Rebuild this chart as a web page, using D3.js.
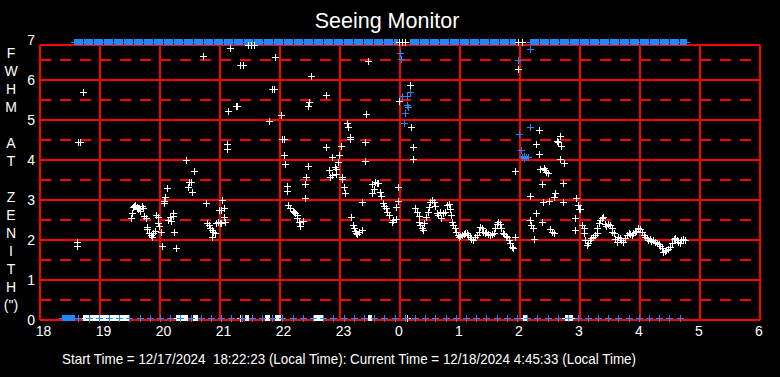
<!DOCTYPE html>
<html><head><meta charset="utf-8">
<script src="https://cdn.jsdelivr.net/npm/d3@7"></script>
<style>html,body{margin:0;padding:0;background:#000;}svg{display:block;}</style>
</head><body>
<script>
// ---- data (hours since 18:00 continue past 24 for after midnight) ----
const xTickHours = [18,19,20,21,22,23,24,25,26,27,28,29,30];
const xTickLabels = ["18","19","20","21","22","23","0","1","2","3","4","5","6"];
const yTicks = [0,1,2,3,4,5,6,7];
const yHalfTicks = [0.5,1.5,2.5,3.5,4.5,5.5,6.5];
const yLabelLetters = ["F","W","H","M","","A","T","","Z","E","N","I","T","H","(\")"];
const titleText = "Seeing Monitor";
const footerText = "Start Time = 12/17/2024  18:22:23 (Local Time): Current Time = 12/18/2024 4:45:33 (Local Time)";

// white FWHM readings [hour, arcsec]
const whitePoints = [
 [18.61,1.94],[18.62,1.84],[18.63,4.44],[18.67,4.44],[18.71,5.69],
 [19.52,2.56],[19.54,2.67],[19.55,2.83],[19.57,2.85],[19.59,2.88],[19.61,2.82],[19.63,2.78],[19.65,2.80],[19.67,2.73],[19.70,2.86],[19.72,2.79],
 [19.74,2.60],[19.76,2.54],[19.78,2.33],[19.79,2.27],[19.82,2.18],[19.85,2.13],[19.87,2.08],[19.89,2.17],[19.92,2.23],[19.93,2.63],[19.96,2.57],
 [19.97,2.43],[19.99,2.35],[20.02,2.19],[20.04,1.84],[20.06,2.92],[20.07,2.97],[20.09,3.07],[20.12,3.29],[20.14,2.50],[20.16,2.58],[20.18,2.47],
 [20.21,2.67],[20.22,2.60],[20.24,2.19],[20.26,1.79],[20.44,3.99],[20.46,3.33],[20.48,3.44],[20.52,3.44],[20.54,3.19],[20.56,3.72],[20.72,6.59],
 [20.77,2.92],[20.79,2.43],[20.81,2.38],[20.83,2.29],[20.86,2.25],[20.87,2.07],[20.89,2.21],[20.92,2.17],[20.94,2.42],[20.97,2.46],[20.99,2.75],[21.00,2.42],
 [21.02,2.75],[21.02,2.43],[21.04,2.99],[21.06,2.79],[21.07,2.57],[21.09,2.44],[21.11,4.27],[21.12,4.39],[21.14,5.22],[21.16,6.79],[21.27,5.34],
 [21.29,5.34],[21.33,0],[21.34,6.37],[21.39,6.37],[21.47,6.87],[21.52,6.87],[21.57,6.87],[21.82,4.97],[21.87,5.77],[21.90,5.77],[21.92,6.57],[22.01,5.12],
 [22.03,4.53],[22.06,4.52],[22.07,4.12],[22.09,3.89],[22.11,3.35],[22.12,3.22],[22.14,2.88],[22.17,2.81],[22.21,2.73],[22.23,2.70],[22.25,2.68],
 [22.28,2.63],[22.29,2.54],[22.32,2.46],[22.34,2.35],[22.39,2.48],[22.41,3.04],[22.42,3.39],[22.44,3.58],[22.46,3.84],[22.47,5.34],[22.49,5.45],
 [22.51,6.09],[22.76,5.62],[22.77,4.32],[22.81,3.74],[22.83,3.58],[22.86,3.63],[22.87,4.07],[22.92,3.83],[22.93,3.64],[22.94,3.78],[22.97,3.94],
 [22.99,4.12],[23.01,4.34],[23.03,3.57],[23.04,3.52],[23.07,3.32],[23.09,3.17],[23.11,4.92],[23.14,4.83],[23.16,4.53],[23.17,4.57],[23.19,2.57],
 [23.21,2.38],[23.23,2.29],[23.25,2.22],[23.27,2.18],[23.29,2.15],[23.32,2.21],[23.36,2.25],[23.37,2.94],[23.41,3.97],[23.42,4.44],[23.44,5.14],
 [23.46,6.47],[23.53,3.40],[23.54,3.17],[23.56,3.27],[23.58,3.46],[23.61,3.42],[23.64,3.43],[23.67,3.21],[23.69,3.10],[23.71,2.93],[23.74,2.86],
 [23.77,2.79],[23.79,2.71],[23.82,2.63],[23.86,2.46],[23.89,2.50],[23.93,2.52],[23.94,2.82],[23.96,2.97],[23.97,3.32],[23.99,5.47],
 [23.98,7],[24.03,7],[24.08,7],[24.12,0],
 [24.17,5.87],[24.19,4.82],[24.21,4.32],[24.22,4.02],
 [24.25,2.79],[24.28,2.71],[24.31,2.60],[24.32,2.46],[24.34,2.38],[24.37,2.29],[24.39,2.25],[24.40,2.43],[24.43,2.58],[24.46,2.71],[24.48,2.83],
 [24.50,2.96],[24.53,3.00],[24.56,2.96],[24.58,2.85],[24.61,2.67],[24.64,2.63],[24.67,2.71],[24.69,2.54],[24.72,2.67],[24.75,2.71],[24.78,2.88],
 [24.81,2.90],[24.83,2.77],[24.85,2.63],[24.87,2.46],[24.89,2.38],[24.91,2.29],[24.93,2.21],[24.96,2.13],[24.98,2.08],[25.00,2.10],[25.03,2.13],
 [25.06,2.15],[25.08,2.17],[25.11,2.18],[25.14,2.13],[25.17,2.07],[25.19,2.02],[25.22,2.00],[25.25,2.07],[25.28,2.13],[25.31,2.21],[25.33,2.32],
 [25.36,2.29],[25.39,2.21],[25.42,2.17],[25.44,2.21],[25.47,2.15],[25.50,2.13],[25.53,2.15],[25.56,2.17],[25.58,2.29],[25.61,2.40],[25.64,2.46],
 [25.67,2.40],[25.68,2.29],[25.71,2.18],[25.73,2.15],[25.77,2.10],[25.79,2.07],[25.81,2.00],[25.83,1.92],[25.86,1.83],[25.88,1.79],
 [25.91,2.07],[25.92,3.72],[25.96,6.27],[25.97,7],[26.03,7],
 [26.16,3.10],[26.17,2.50],[26.19,2.38],[26.22,2.29],[26.24,2.02],[26.26,2.67],[26.27,4.39],[26.31,4.75],[26.32,4.14],[26.33,3.77],[26.36,3.39],
 [26.37,2.44],[26.39,2.94],[26.40,3.79],[26.42,3.75],[26.44,3.71],[26.47,3.68],[26.49,2.98],[26.50,2.27],[26.53,2.21],[26.56,2.18],[26.57,3.08],
 [26.59,3.17],[26.61,4.48],[26.64,4.45],[26.66,4.60],[26.67,4.03],[26.69,4.35],[26.71,2.94],[26.72,3.42],[26.74,3.92],[26.91,2.24],[26.92,2.54],
 [26.94,3.04],[26.97,2.88],[26.99,2.77],[27.00,2.77],
 [27.04,2.38],[27.06,2.29],[27.07,2.17],[27.09,2.00],[27.11,1.88],[27.14,1.92],[27.17,2.00],[27.19,2.04],[27.22,2.08],[27.25,2.13],[27.28,2.17],
 [27.29,2.29],[27.32,2.43],[27.34,2.50],[27.37,2.54],[27.39,2.58],[27.42,2.40],[27.44,2.35],[27.47,2.40],[27.50,2.38],[27.53,2.29],[27.54,2.21],
 [27.57,2.17],[27.59,2.02],[27.61,1.96],[27.64,2.07],[27.67,2.04],[27.69,2.00],[27.72,1.96],[27.75,2.04],[27.78,2.13],[27.81,2.17],[27.83,2.14],
 [27.86,2.13],[27.89,2.17],[27.92,2.21],[27.94,2.23],[27.97,2.29],[28.00,2.27],[28.03,2.21],[28.06,2.13],[28.08,2.07],[28.11,2.04],[28.14,2.00],
 [28.17,2.02],[28.19,1.98],[28.22,2.00],[28.25,1.96],[28.28,1.93],[28.31,1.90],[28.33,1.85],[28.36,1.79],[28.39,1.71],[28.42,1.73],[28.44,1.75],
 [28.47,1.77],[28.50,1.83],[28.53,1.92],[28.56,2.02],[28.58,2.04],[28.61,2.00],[28.64,1.96],[28.67,1.93],[28.69,2.00],[28.72,2.02],[28.75,2.00]
];

// blue readings on scale [hour, arcsec]
const bluePoints = [
 [24.00,6.67],[24.02,6.52],[24.04,5.61],[24.06,4.92],[24.09,5.17],[24.11,5.61],[24.12,5.37],[24.14,5.33],[24.16,5.69],
 [25.97,6.49],[25.99,4.64],[26.01,4.25],[26.03,4.07],[26.06,4.10],[26.07,4.04],[26.10,4.07],[26.14,4.07],[26.16,4.82],[26.17,6.77]
];

// blue readings at zero (hours)
const blueZeroHours = [
 18.64,18.81,18.98,19.15,19.32,19.49,19.66,19.83,20.00,20.17,20.34,20.51,20.68,20.85,21.02,21.19,21.36,21.53,21.70,21.87,
 22.04,22.21,22.38,22.55,22.72,22.89,23.06,23.23,23.40,23.57,23.74,23.91,24.08,24.25,24.42,24.59,24.76,24.93,25.10,25.27,
 25.44,25.61,25.78,25.95,26.12,26.29,26.46,26.63,26.80,26.96,27.13,27.30,27.47,27.64,27.81,27.98,28.15,28.32,28.49,28.66
];

// runs of continuous readings [start hour, end hour]
const blueTopRuns = [[18.58,23.96],[24.18,25.92],[26.17,28.78]];
const blueZeroRuns = [[18.37,18.58]];
const whiteZeroRuns = [[18.72,19.48],[20.27,20.45],[20.55,20.62],[21.42,21.47],[21.75,21.83],[21.92,22.00],[22.55,22.72],[23.47,23.53],[26.05,26.13],[26.75,26.88]];

// ---- drawing ----
const W = 780, H = 377;
const RED = "#ff0000", BLUE = "#1e88ff", WHITE = "#ffffff";
const FONT = "'Liberation Sans', Arial, sans-serif";

const svg = d3.select("body").append("svg").attr("width", W).attr("height", H);
svg.append("rect").attr("width", W).attr("height", H).attr("fill", "#000");

const x = d3.scaleLinear().domain([18, 30]).range([40, 760]);
const y = d3.scaleLinear().domain([0, 7]).range([320, 40]);
const frameTop = 45;
const yPos = v => Math.max(42, Math.min(318, y(v)));

const grid = svg.append("g").attr("shape-rendering", "crispEdges");
grid.selectAll(".hd").data(yHalfTicks).join("line")
  .attr("x1", x(18)).attr("x2", x(30)).attr("y1", d => y(d)).attr("y2", d => y(d))
  .attr("stroke", RED).attr("stroke-width", 2).attr("stroke-dasharray", "11,9");
grid.selectAll(".hs").data(yTicks.filter(d => d < 7)).join("line")
  .attr("x1", x(18)).attr("x2", x(30)).attr("y1", d => y(d)).attr("y2", d => y(d))
  .attr("stroke", RED).attr("stroke-width", 2);
grid.append("line").attr("x1", x(18)).attr("x2", x(30)).attr("y1", frameTop).attr("y2", frameTop)
  .attr("stroke", RED).attr("stroke-width", 2);
grid.selectAll(".v").data(xTickHours).join("line")
  .attr("x1", d => x(d)).attr("x2", d => x(d)).attr("y1", frameTop).attr("y2", y(0))
  .attr("stroke", RED).attr("stroke-width", 2);

// axes (labels only)
const yAxis = svg.append("g").attr("transform", `translate(${x(18)},0)`)
  .call(d3.axisLeft(y).tickValues(yTicks).tickSize(0).tickPadding(5).tickFormat(d3.format("d")));
const xAxis = svg.append("g").attr("transform", `translate(0,${y(0)})`)
  .call(d3.axisBottom(x).tickValues(xTickHours).tickSize(0).tickPadding(6).tickFormat((d, i) => xTickLabels[i]));
[yAxis, xAxis].forEach(a => {
  a.select(".domain").remove();
  a.selectAll("text").attr("fill", WHITE).attr("font-size", 14).attr("font-family", FONT);
});
xAxis.selectAll("text").attr("dx", (d, i) => xTickLabels[i].length > 1 ? 3 : -1.5);

// run bands
function runs(data, color, yv, notched) {
  const g = svg.append("g").attr("shape-rendering", "crispEdges");
  g.selectAll("line.b").data(data).join("line")
    .attr("x1", d => x(d[0]) - 0.5).attr("x2", d => x(d[1]) + 0.5)
    .attr("y1", yPos(yv)).attr("y2", yPos(yv))
    .attr("stroke", color).attr("stroke-width", 6)
    .attr("stroke-dasharray", notched ? "9,1" : null);
  g.selectAll("line.t").data(data).join("line")
    .attr("x1", d => x(d[0]) - 3.5).attr("x2", d => x(d[1]) + 3.5)
    .attr("y1", yPos(yv) + 0.5).attr("y2", yPos(yv) + 0.5)
    .attr("stroke", color).attr("stroke-width", 1);
}
const cross = "M-3.5,0H3.5M0,-3.5V3.5";
function crosses(data, color) {
  svg.append("g").attr("shape-rendering", "crispEdges")
    .selectAll("path").data(data).join("path")
    .attr("d", cross)
    .attr("transform", d => `translate(${Math.round(x(d[0])) + 0.5},${Math.round(yPos(d[1])) + 0.5})`)
    .attr("fill", "none").attr("stroke", color).attr("stroke-width", 1);
}

runs(blueTopRuns, BLUE, 7, true);
runs(blueZeroRuns, BLUE, 0, false);
runs(whiteZeroRuns, WHITE, 0, false);
crosses(whitePoints, WHITE);
crosses(bluePoints, BLUE);
crosses(blueZeroHours.map(h => [h, 0]), BLUE);

// title
svg.append("text").attr("x", 387).attr("y", 28).attr("text-anchor", "middle")
  .attr("fill", WHITE).attr("font-size", 21.5).attr("font-family", FONT).text(titleText);

// vertical y label
svg.append("g").selectAll("text").data(yLabelLetters).join("text")
  .attr("x", 11).attr("y", (d, i) => 53 + i * 18).attr("dy", "0.35em")
  .attr("text-anchor", "middle").attr("fill", WHITE).attr("font-size", 14).attr("font-family", FONT)
  .text(d => d);

// footer
svg.append("text").attr("x", 62).attr("y", 364)
  .attr("fill", WHITE).attr("font-size", 14.5).attr("font-family", FONT)
  .attr("textLength", 574).attr("lengthAdjust", "spacingAndGlyphs")
  .style("white-space", "pre").text(footerText);
</script>
</body></html>
